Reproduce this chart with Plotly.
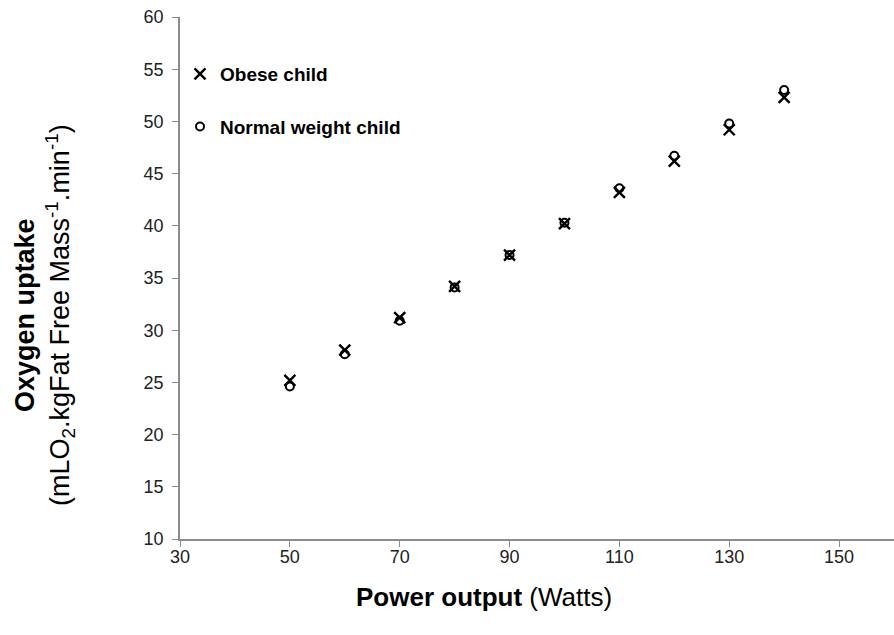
import plotly.graph_objects as go

power = [50, 60, 70, 80, 90, 100, 110, 120, 130, 140]
obese = [25.2, 28.1, 31.2, 34.2, 37.2, 40.2, 43.2, 46.2, 49.2, 52.3]
normal = [24.6, 27.7, 30.9, 34.1, 37.2, 40.3, 43.6, 46.7, 49.8, 53.0]
x_ticks = [30, 50, 70, 90, 110, 130, 150]
y_ticks = [10, 15, 20, 25, 30, 35, 40, 45, 50, 55, 60]

FONT = "Liberation Sans, Arial, sans-serif"
W, H = 894, 635
L, R, T, B = 180, 0, 17, 96

fig = go.Figure()
fig.add_trace(go.Scatter(
    x=power, y=obese, mode="markers", name="<b>Obese child</b>",
    legendgroup="a",
    marker=dict(symbol="x-thin-open", size=11, color="black",
                line=dict(color="black", width=2.4)),
))
fig.add_trace(go.Scatter(
    x=power, y=normal, mode="markers", name="<b>Normal weight child</b>",
    legendgroup="b",
    marker=dict(symbol="circle-open", size=8, color="black",
                line=dict(color="black", width=2)),
))

axis_common = dict(
    showgrid=False, zeroline=False, showline=True, linecolor="#8c8c8c",
    linewidth=1.5, ticks="outside", ticklen=6, tickcolor="#8c8c8c",
    tickwidth=1.2, tickfont=dict(family=FONT, size=18, color="#222"),
)
fig.update_xaxes(range=[30, 160], tickvals=x_ticks, ticklabelstandoff=-5, **axis_common)
fig.update_yaxes(range=[10, 60], tickvals=y_ticks, ticklabelstandoff=5, **axis_common)

pw = W - L - R
ph = H - T - B
fig.add_annotation(
    xref="paper", yref="paper", x=(45 - L) / pw, y=(539 - 315) / ph,
    xanchor="center", yanchor="middle", textangle=-90, showarrow=False,
    text="<b>Oxygen uptake</b><br>(mLO<sub>2</sub>.kgFat Free Mass<sup>-1</sup>.min<sup>-1</sup>)",
    font=dict(family=FONT, size=27, color="black"),
)
fig.add_annotation(
    xref="paper", yref="paper", x=(484 - L) / pw, y=-(597 - 539) / ph,
    xanchor="center", yanchor="middle", showarrow=False,
    text="<b>Power output</b> (Watts)",
    font=dict(family=FONT, size=26, color="black"),
)

fig.update_layout(
    width=W, height=H,
    margin=dict(l=L, r=R, t=T, b=B),
    paper_bgcolor="white", plot_bgcolor="white",
    showlegend=True,
    legend=dict(
        x=0, y=(539 - 55) / ph, xanchor="left", yanchor="top",
        font=dict(family=FONT, size=19, color="black"),
        tracegroupgap=25, itemwidth=30, bgcolor="rgba(0,0,0,0)",
    ),
)

fig.write_html(
    "out.html",
    config={"displayModeBar": False},
    post_script="document.body.style.margin='0';document.body.style.overflow='hidden';",
)
